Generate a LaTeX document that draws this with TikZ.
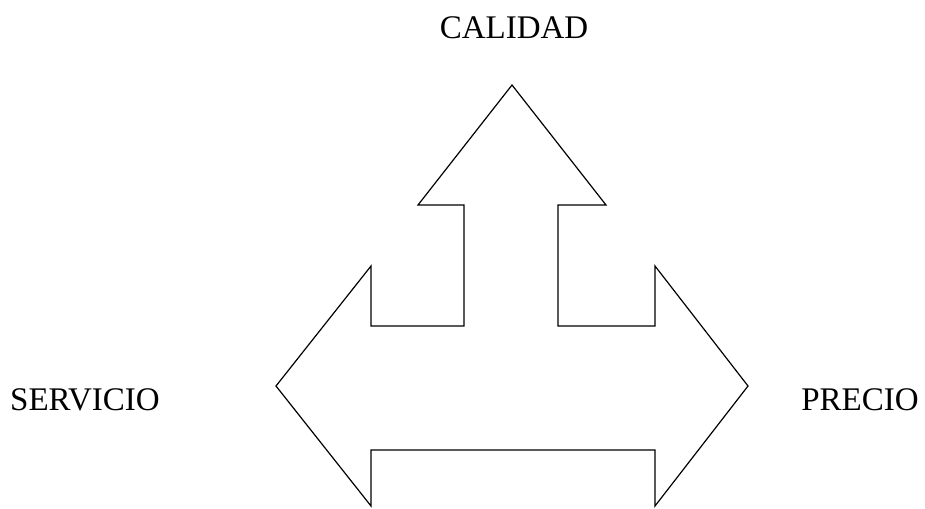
\documentclass[tikz,border=0pt]{standalone}
\usepackage{fontspec}
\setmainfont{Liberation Serif}
\begin{document}
\begin{tikzpicture}[x=1pt, y=-1pt, every node/.style={font=\fontsize{33}{38}\selectfont}]

    % 枠 (余白込み)
    \useasboundingbox (0, 0) rectangle (925, 508);

    % 三方向の矢印
    \draw[line width=1.2pt, line join=miter]
    (512, 85) -- (606, 205) -- (558, 205) -- (558, 326) -- (655, 326)
    -- (655, 266) -- (748, 386) -- (655, 506) -- (655, 450) -- (371, 450)
    -- (371, 506) -- (276, 386) -- (371, 266) -- (371, 326) -- (464, 326)
    -- (464, 205) -- (418, 205) -- cycle;

    % ラベル
    \node (calidad) at (514, 28) {CALIDAD};
    \node (servicio) at (85, 400) {SERVICIO};
    \node (precio) at (860, 400) {PRECIO};

  \end{tikzpicture}
\end{document}
